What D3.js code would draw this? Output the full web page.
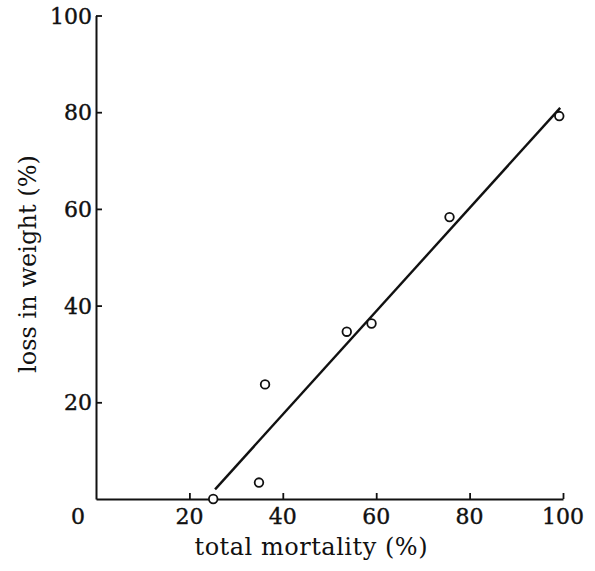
<!DOCTYPE html>
<html>
<head>
<meta charset="utf-8">
<script src="https://cdn.jsdelivr.net/npm/d3@7"></script>
<style>
    body { margin: 0; background: #fff; }
    svg { display: block; }
    .tick-label { font-family: "DejaVu Serif", serif; font-size: 22px; fill: #111; stroke: #111; stroke-width: 0.4px; }
    .label { font-family: "DejaVu Serif", serif; font-size: 24px; fill: #111; }
</style>
</head>
<body>
<svg id="chart" width="595" height="571"></svg>
<script>
// Data
var mortality = [25.1, 34.9, 36.2, 53.7, 59.0, 75.7, 99.2];
var weightLoss = [0, 3.4, 23.7, 34.6, 36.3, 58.3, 79.2];

// Fitted line end points
var fitMortality = [25.5, 99.4];
var fitWeightLoss = [2.0, 80.9];

var xTicks = [20, 40, 60, 80, 100];
var yTicks = [20, 40, 60, 80, 100];

// Plot area in pixels
var padding = { left: 96, right: 32, top: 15.5, bottom: 72 };
var svgWidth = 595, svgHeight = 571;

var svg = d3.select("#chart");

var xScale = d3.scaleLinear()
    .domain([0, 100])
    .range([padding.left, svgWidth - padding.right]);

var yScale = d3.scaleLinear()
    .domain([0, 100])
    .range([svgHeight - padding.bottom, padding.top]);

var ink = "#111";

// x-axis, ticks pointing up into the plot
var xAxis = svg.append("g")
    .attr("transform", `translate(0, ${yScale(0)})`)
    .call(d3.axisTop(xScale).tickValues(xTicks).tickSize(6).tickSizeOuter(0).tickFormat(""));

// y-axis, ticks pointing right into the plot
var yAxis = svg.append("g")
    .attr("transform", `translate(${xScale(0)}, 0)`)
    .call(d3.axisRight(yScale).tickValues(yTicks).tickSize(6).tickSizeOuter(0).tickFormat(""));

[xAxis, yAxis].forEach(function(axis) {
    axis.select(".domain").attr("stroke", ink).attr("stroke-width", 2);
    axis.selectAll(".tick line").attr("stroke", ink).attr("stroke-width", 1.8);
});

// x tick labels
svg.selectAll(".x-label")
    .data(xTicks)
    .enter()
    .append("text")
    .attr("class", "tick-label")
    .attr("x", d => xScale(d))
    .attr("y", yScale(0) + 25)
    .attr("text-anchor", "middle")
    .text(d => d);

// y tick labels
svg.selectAll(".y-label")
    .data(yTicks)
    .enter()
    .append("text")
    .attr("class", "tick-label")
    .attr("x", xScale(0) - 4)
    .attr("y", d => yScale(d) + 8)
    .attr("text-anchor", "end")
    .text(d => d);

// origin label
svg.append("text")
    .attr("class", "tick-label")
    .attr("x", 78)
    .attr("y", yScale(0) + 25)
    .attr("text-anchor", "middle")
    .text("0");

// Axis titles
svg.append("text")
    .attr("class", "label")
    .attr("x", 311)
    .attr("y", 555)
    .attr("text-anchor", "middle")
    .attr("textLength", 233)
    .attr("lengthAdjust", "spacing")
    .text("total mortality (%)");

svg.append("text")
    .attr("class", "label")
    .attr("transform", "translate(36, 264) rotate(-90)")
    .attr("text-anchor", "middle")
    .attr("textLength", 218)
    .attr("lengthAdjust", "spacing")
    .text("loss in weight (%)");

// Regression line
svg.append("line")
    .attr("x1", xScale(fitMortality[0]))
    .attr("y1", yScale(fitWeightLoss[0]))
    .attr("x2", xScale(fitMortality[1]))
    .attr("y2", yScale(fitWeightLoss[1]))
    .attr("stroke", ink)
    .attr("stroke-width", 2.4);

// Data points
svg.selectAll(".point")
    .data(mortality.map((m, i) => [m, weightLoss[i]]))
    .enter()
    .append("circle")
    .attr("class", "point")
    .attr("cx", d => xScale(d[0]))
    .attr("cy", d => yScale(d[1]))
    .attr("r", 4.3)
    .attr("fill", "#fff")
    .attr("stroke", ink)
    .attr("stroke-width", 1.8);
</script>
</body>
</html>
